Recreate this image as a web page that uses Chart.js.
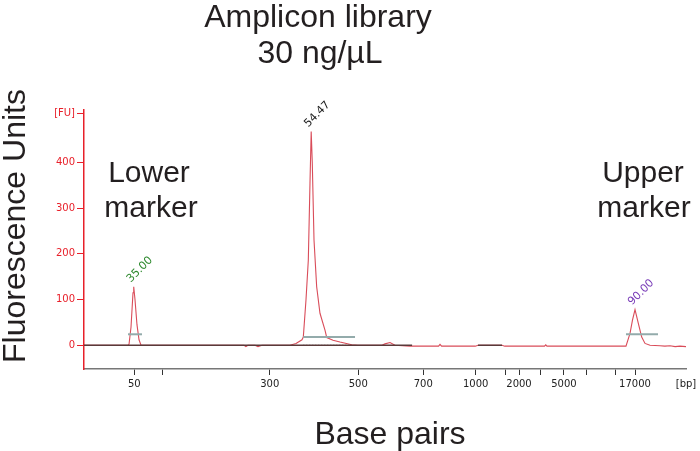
<!DOCTYPE html>
<html lang="en">
<head>
<meta charset="UTF-8">
<title>Amplicon library electropherogram</title>
<script src="https://cdn.jsdelivr.net/npm/chart.js"></script>
<style>
  html, body { margin: 0; padding: 0; background: #fff; }
  .container { position: relative; width: 700px; height: 451px; }
</style>
</head>
<body>
<div class="container"><canvas id="myChart"></canvas></div>
<script>
// migration position along the run (0 = start, 100 = end of the trace)
const traceX  = [0, 7.31, 7.48, 7.81, 8.14, 8.26, 8.47, 8.80, 9.14, 9.47,
                 26.58, 26.9, 27.24, 28.4, 28.9, 29.57,
                 34.22, 35.22, 36.21, 36.43, 36.88, 37.26, 37.54, 37.74, 37.92, 38.21,
                 38.65, 39.20, 40.03, 40.32, 41.36, 42.52, 44.47, 45.5,
                 49.5, 50.0, 50.83, 51.66, 54.15, 58.9, 59.14, 59.4,
                 65.0, 65.45, 69.44, 69.9, 76.5, 76.7, 76.9,
                 90.03, 90.70, 91.11, 91.53, 92.08, 92.64, 93.19, 94.02,
                 95.68, 96.5, 97.34, 98.2, 99.0, 100];
// fluorescence [FU]
const traceFU = [0, 0, 2, 40, 115, 128, 100, 45, 12, 0,
                 0, -3, 0, 0, -3, 0,
                 0, 4, 12, 18, 100, 186, 355, 468, 400, 230,
                 128, 70, 33, 17, 11, 7, 1, 0,
                 0, 3, 6, 0, -2, -2, 2, -2,
                 -2, 0, 0, -2, -2, 1, -2,
                 -2, 26, 55, 78, 48, 18, 4, 0,
                 -1, -2, -1, -3, -2, -3];

// zero reference segments
const zeroX = [0, 54.5, null, 65.45, 69.44];

// ladder ticks on the x axis
const tickPos    = [8.36, 12.96, 30.85, 45.56, 56.36, 65.07, 70.05, 72.26, 75.91, 79.73, 83.5, 88.26, 91.53, 100];
const tickLabels = ['50', '', '300', '500', '700', '1000', '', '2000', '', '5000', '', '', '17000', '[bp]'];

const yTickPos    = [0, 100, 200, 300, 400, 508];
const yTickLabels = ['0', '100', '200', '300', '400', '[FU]'];

// peaks
const peakX      = [8.26, 37.74, 91.53];
const peakFU     = [128, 468, 78];
const peakLabels = ['35.00', '54.47', '90.00'];
const peakColors = ['#2f8a2f', '#222222', '#7a3db8'];

// integration bars
const barStart = [7.31, 36.43, 90.03];
const barEnd   = [9.63, 45.02, 95.35];
const barFU    = [24, 18, 24];

const titleLines = ['Amplicon library', '30 ng/µL'];
const xTitle = 'Base pairs';
const yTitle = 'Fluorescence Units';

const traceData = traceX.map((x, i) => ({ x: x, y: traceFU[i] }));
const zeroData = zeroX.map(x => ({ x: x, y: x === null ? null : 0 })).map(p => p.x === null ? { x: 60, y: null } : p);
const barSets = barStart.map((s, i) => ({
    data: [{ x: s, y: barFU[i] }, { x: barEnd[i], y: barFU[i] }],
    borderColor: '#93abab',
    borderWidth: 2,
    order: 0
}));

const textPlugin = {
    id: 'texts',
    afterDraw(chart) {
        const ctx = chart.ctx;
        ctx.save();
        ctx.fillStyle = '#231f20';
        ctx.textAlign = 'center';
        ctx.textBaseline = 'alphabetic';
        ctx.font = '32px "Liberation Sans", Arial, sans-serif';
        ctx.fillText(titleLines[0], 318, 27);
        ctx.fillText(titleLines[1], 320, 63);
        ctx.fillText(xTitle, 390, 444);

        ctx.save();
        ctx.translate(25, 226);
        ctx.rotate(-Math.PI / 2);
        ctx.fillText(yTitle, 0, 0);
        ctx.restore();

        ctx.font = '30px "Liberation Sans", Arial, sans-serif';
        ctx.fillText('Lower', 149, 182);
        ctx.fillText('marker', 151, 217);
        ctx.fillText('Upper', 643, 182);
        ctx.fillText('marker', 644, 217);

        // peak labels
        const xs = chart.scales.x, ys = chart.scales.y;
        ctx.font = '11px "DejaVu Sans", sans-serif';
        ctx.textAlign = 'left';
        peakLabels.forEach((lab, i) => {
            ctx.save();
            ctx.translate(xs.getPixelForValue(peakX[i]) - 3, ys.getPixelForValue(peakFU[i]) - 4);
            ctx.rotate(-Math.PI / 4);
            ctx.fillStyle = peakColors[i];
            ctx.fillText(lab, 0, 0);
            ctx.restore();
        });
        ctx.restore();
    }
};

const config = {
    type: 'line',
    data: {
        datasets: [
            {
                data: zeroData,
                borderColor: '#5a3a3a',
                borderWidth: 1.3,
                spanGaps: false,
                order: 0
            },
            ...barSets,
            {
                data: [{ x: 36.43, y: 0 }, { x: 44.47, y: 0 }],
                borderColor: '#555',
                borderWidth: 1,
                borderDash: [1, 2],
                order: 0
            },
            {
                data: traceData,
                borderColor: 'rgba(210, 45, 60, 0.85)',
                borderWidth: 1.1,
                order: 1
            }
        ]
    },
    options: {
        responsive: true,
        maintainAspectRatio: false,
        animation: false,
        layout: { padding: { top: 110, right: 14, left: 0, bottom: 0 } },
        elements: { point: { radius: 0 }, line: { tension: 0 } },
        plugins: { legend: { display: false }, tooltip: { enabled: false } },
        scales: {
            x: {
                type: 'linear',
                min: 0,
                max: 100,
                afterBuildTicks: s => { s.ticks = tickPos.map(v => ({ value: v })); },
                afterFit: s => { s.height = 82; },
                ticks: {
                    autoSkip: false,
                    maxRotation: 0,
                    padding: 3,
                    color: '#222',
                    font: { family: 'DejaVu Sans', size: 10 },
                    callback: (v, i) => tickLabels[i]
                },
                grid: {
                    drawOnChartArea: false,
                    tickLength: 6,
                    tickWidth: 1,
                    tickColor: ctx => ctx.index === tickPos.length - 1 ? 'rgba(0,0,0,0)' : '#333'
                },
                border: { color: '#777', width: 1.5 }
            },
            y: {
                min: -52,
                max: 515,
                afterBuildTicks: s => { s.ticks = yTickPos.map(v => ({ value: v })); },
                afterFit: s => { s.width = 84; },
                ticks: {
                    autoSkip: false,
                    padding: 2,
                    color: '#e8202a',
                    font: { family: 'DejaVu Sans', size: 10 },
                    callback: (v, i) => yTickLabels[i]
                },
                grid: {
                    drawOnChartArea: false,
                    tickLength: 7,
                    tickWidth: 1,
                    tickColor: '#e8202a'
                },
                border: { color: '#e8202a', width: 1.5 }
            }
        }
    },
    plugins: [textPlugin]
};

new Chart(document.getElementById('myChart'), config);
</script>
</body>
</html>
